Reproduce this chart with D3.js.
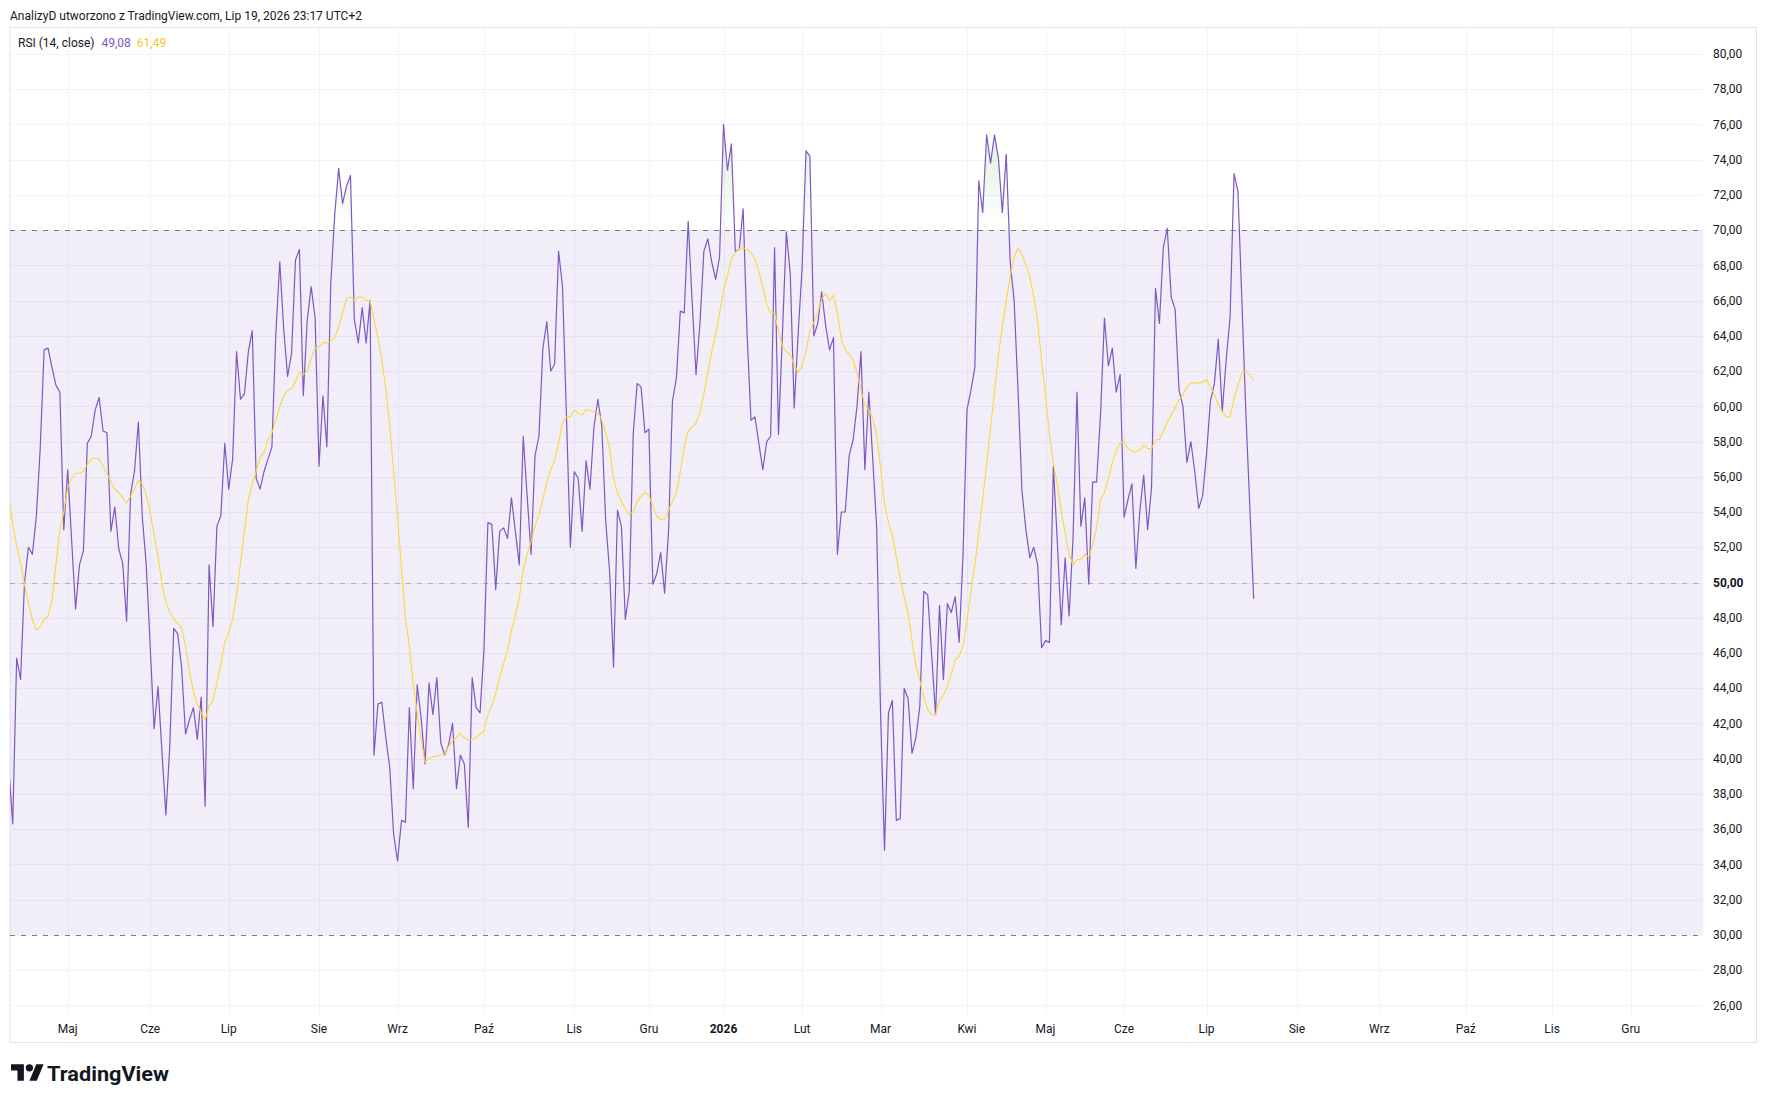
<!DOCTYPE html>
<html><head><meta charset="utf-8">
<script src="https://cdn.jsdelivr.net/npm/d3@7"></script>
<style>
body{margin:0;background:#ffffff;}
svg{display:block;}
text{font-family:Roboto,"Noto Sans",sans-serif;}
</style>
</head><body>
<svg id="chart" width="1766" height="1103"></svg>
<script>
// RSI (14, close) – one value per trading day
const rsiValues = [
39.5,36.3,45.7,44.5,50.0,52.0,51.6,53.7,57.6,63.2,
63.3,62.2,61.2,60.8,53.0,56.4,52.4,48.5,51.0,51.8,
57.9,58.3,59.8,60.5,58.6,58.5,52.9,54.3,51.9,51.1,
47.8,55.0,56.3,59.1,53.7,51.0,46.4,41.7,44.1,40.4,
36.8,40.7,47.4,47.1,45.2,41.4,42.2,42.9,41.1,43.5,
37.3,51.0,47.5,53.2,53.8,57.9,55.3,57.0,63.1,60.4,
60.7,63.1,64.3,55.9,55.3,56.3,57.0,57.7,64.1,68.2,
64.4,61.7,63.0,68.3,68.9,60.6,64.9,66.8,65.0,56.6,
60.6,57.7,67.0,70.9,73.5,71.5,72.5,73.1,64.9,63.6,
65.6,63.6,66.0,40.2,43.1,43.2,41.2,39.5,35.7,34.2,
36.5,36.4,42.9,38.3,44.2,42.3,39.7,44.3,42.5,44.6,
40.9,40.2,40.8,42.0,38.3,40.2,39.7,36.1,44.6,42.9,
42.6,46.2,53.4,53.3,49.6,52.9,53.1,52.5,54.8,52.9,
51.0,58.3,54.9,51.6,57.2,58.3,63.3,64.8,62.0,62.4,
68.8,66.8,59.5,52.0,56.3,55.9,52.9,56.9,55.3,58.8,
60.4,58.9,53.5,50.6,45.2,54.1,53.2,47.9,49.5,58.4,
61.3,61.1,58.5,58.7,49.9,50.5,51.7,49.4,52.9,60.3,
61.6,65.4,65.3,70.5,66.0,61.8,64.7,68.8,69.5,68.2,
67.2,68.5,76.0,73.4,74.9,68.8,68.9,71.2,64.1,59.2,
59.4,57.9,56.4,58.0,58.3,69.0,58.4,64.1,69.9,67.5,
59.9,64.1,67.8,74.5,74.2,64.0,64.7,66.5,64.6,63.2,
63.9,51.6,54.0,54.0,57.2,58.1,60.0,63.1,56.4,60.8,
57.0,53.1,42.5,34.8,42.6,43.3,36.5,36.6,44.0,43.4,
40.3,41.2,43.0,49.5,49.3,45.9,42.5,48.7,44.5,48.8,
48.3,49.2,46.6,51.6,59.8,60.9,62.2,72.8,71.0,75.4,
73.8,75.4,74.1,71.0,74.3,68.2,66.0,60.9,55.2,53.0,
51.4,52.0,51.0,46.3,46.7,46.6,56.6,52.3,47.6,51.4,
48.1,52.5,60.8,53.2,54.8,49.9,55.7,55.7,59.5,65.0,
62.3,63.3,60.8,61.8,53.7,54.7,55.6,50.8,54.0,56.1,
53.0,55.4,66.7,64.7,69.0,70.1,66.2,65.5,60.9,60.0,
56.8,58.0,56.3,54.2,54.9,57.3,60.3,61.3,63.8,59.7,
62.6,65.1,73.2,72.2,66.0,59.7,54.4,49.08
];
// RSI-based moving average
const maValues = [
54.9,53.3,52.1,51.1,49.9,48.8,47.9,47.3,47.5,47.9,
48.1,49.0,51.0,53.0,54.0,55.4,55.9,56.2,56.2,56.3,
56.7,57.0,57.1,57.0,56.6,56.2,55.7,55.3,55.1,54.8,
54.5,54.9,55.3,55.8,55.6,55.0,54.0,52.7,51.5,49.9,
48.9,48.3,47.9,47.7,47.4,46.4,45.0,43.8,43.1,42.6,
42.2,43.0,43.3,44.3,45.4,46.6,47.2,47.9,49.3,51.1,
52.9,54.7,55.6,56.3,57.1,57.4,58.1,58.5,59.2,60.0,
60.6,60.9,61.0,61.4,61.9,61.8,62.0,62.7,63.3,63.4,
63.6,63.6,63.7,63.9,64.5,65.3,66.1,66.2,66.0,66.2,
66.2,66.0,66.0,64.9,63.9,62.6,61.0,58.9,56.3,53.7,
50.8,48.0,46.4,44.2,42.6,41.1,39.8,40.0,40.1,40.15,
40.2,40.25,40.7,41.05,41.2,41.45,41.2,41.05,41.1,41.2,
41.4,41.6,42.5,43.0,43.7,44.6,45.4,46.15,47.3,48.1,
49.15,50.7,51.6,52.3,53.2,53.85,54.75,55.65,56.4,56.95,
57.9,59.05,59.4,59.4,59.8,59.6,59.5,59.8,59.75,59.7,
59.65,59.2,58.5,57.6,55.9,55.1,54.6,54.2,53.85,54.0,
54.6,54.9,55.1,54.95,54.35,53.75,53.6,53.55,54.1,54.6,
55.1,56.3,57.7,58.6,58.8,59.05,59.7,60.7,61.9,63.1,
64.1,65.3,66.6,67.4,68.4,68.7,68.95,69.0,68.9,68.7,
68.35,67.65,66.75,65.8,65.3,65.3,64.25,63.4,63.1,62.95,
62.35,61.9,62.3,63.1,64.3,64.75,65.3,66.1,66.4,66.0,
66.3,65.3,63.8,63.2,62.95,62.6,61.9,60.9,60.1,59.8,
59.3,58.4,56.5,54.5,53.4,52.7,51.45,50.2,49.2,48.25,
46.7,45.3,44.4,43.5,42.8,42.5,42.5,43.3,43.6,44.1,
44.8,45.6,45.8,46.4,47.8,49.5,51.0,52.85,54.7,56.75,
58.8,60.8,62.9,64.55,66.0,67.35,68.5,68.96,68.6,68.04,
67.35,66.2,64.8,62.6,60.65,58.4,56.75,55.6,54.0,52.85,
51.6,51.0,51.3,51.3,51.6,51.45,52.1,53.1,54.7,55.1,
55.9,56.8,57.5,57.9,58.0,57.6,57.45,57.4,57.5,57.8,
57.6,57.6,58.1,58.1,58.6,59.1,59.5,59.9,60.4,60.65,
61.1,61.3,61.35,61.3,61.4,61.5,61.1,60.65,60.1,59.7,
59.4,59.4,60.4,61.2,61.9,62.0,61.8,61.49
];
// month ticks: label and bar index where the month begins
const monthLabels = ["Maj","Cze","Lip","Sie","Wrz","Paź","Lis","Gru","2026","Lut","Mar","Kwi","Maj","Cze","Lip","Sie","Wrz","Paź","Lis","Gru"];
const monthBars   = [15,36,56,79,99,121,144,163,182,202,222,244,264,284,305,328,349,371,393,413];
const yTickValues = d3.range(26, 82, 2);
const bandLevels = [70, 50, 30];

const svg = d3.select("#chart");
const frame = {l:10, t:27.5, r:1756.5, b:1042.5};
const plot = {l:10, t:27.5, r:1703.5, b:1015};

const x = d3.scaleLinear().domain([0, rsiValues.length-1]).range([8.8, 8.8 + (rsiValues.length-1)*3.927]);
const y = d3.scaleLinear().domain([30, 70]).range([934.9, 230.1]);

const locale = d3.formatLocale({decimal:",", thousands:" ", grouping:[3], currency:["","zł"]});
const fmt = locale.format(".2f");

const defs = svg.append("defs");
defs.append("clipPath").attr("id","plotClip").append("rect")
  .attr("x",plot.l).attr("y",plot.t).attr("width",plot.r-plot.l).attr("height",plot.b-plot.t);
defs.append("clipPath").attr("id","obClip").append("rect")
  .attr("x",plot.l).attr("y",plot.t).attr("width",plot.r-plot.l).attr("height",y(70)-plot.t);
const grad = defs.append("linearGradient").attr("id","obGrad")
  .attr("gradientUnits","userSpaceOnUse").attr("x1",0).attr("x2",0).attr("y1",y(100)).attr("y2",y(70));
grad.append("stop").attr("offset","0").attr("stop-color","#4CAF50").attr("stop-opacity",1);
grad.append("stop").attr("offset","1").attr("stop-color","#4CAF50").attr("stop-opacity",0);

// header
svg.append("text").attr("x",10).attr("y",19.5).attr("font-size",12).attr("fill","#131722")
  .text("AnalizyD utworzono z TradingView.com, Lip 19, 2026 23:17 UTC+2");

// frame
svg.append("rect").attr("x",frame.l).attr("y",frame.t).attr("width",frame.r-frame.l).attr("height",frame.b-frame.t)
  .attr("fill","#ffffff").attr("stroke","#E0E3EB").attr("stroke-width",1);

const g = svg.append("g").attr("clip-path","url(#plotClip)");

// grid
g.selectAll("line.hg").data(yTickValues).join("line")
  .attr("x1",plot.l).attr("x2",plot.r).attr("y1",d=>Math.round(y(d))+0.5).attr("y2",d=>Math.round(y(d))+0.5)
  .attr("stroke","#F0F3FA").attr("stroke-width",1);
g.selectAll("line.vg").data(monthBars).join("line")
  .attr("x1",d=>Math.round(x(d))+0.5).attr("x2",d=>Math.round(x(d))+0.5).attr("y1",plot.t).attr("y2",plot.b)
  .attr("stroke","#F0F3FA").attr("stroke-width",1);

// band background 30-70
g.append("rect").attr("x",plot.l).attr("width",plot.r-plot.l)
  .attr("y",y(70)).attr("height",y(30)-y(70)).attr("fill","rgba(126,87,194,0.1)");

// overbought gradient fill
const obArea = d3.area().x((d,i)=>x(i)).y0(y(70)).y1(d=>y(d));
g.append("path").datum(rsiValues).attr("clip-path","url(#obClip)")
  .attr("d",obArea).attr("fill","url(#obGrad)");

// band lines
g.selectAll("line.band").data(bandLevels).join("line")
  .attr("x1",plot.l).attr("x2",plot.r)
  .attr("y1",d=>Math.round(y(d))+0.5).attr("y2",d=>Math.round(y(d))+0.5)
  .attr("stroke",d=>d===50?"rgba(120,123,134,0.5)":"#787B86")
  .attr("stroke-width",1).attr("stroke-dasharray","5,6");

const line = d3.line().x((d,i)=>x(i)).y(d=>y(d));
g.append("path").datum(rsiValues).attr("d",line).attr("fill","none")
  .attr("stroke","#7E57C2").attr("stroke-width",1.2).attr("stroke-linejoin","round");
g.append("path").datum(maValues).attr("d",line).attr("fill","none")
  .attr("stroke","#FDD835").attr("stroke-width",1.1).attr("stroke-linejoin","round");

// y axis labels
svg.append("g").selectAll("text").data(yTickValues).join("text")
  .attr("x",1713).attr("y",d=>y(d)).attr("dy","0.35em").attr("font-size",12)
  .attr("font-weight",d=>d===50?700:400)
  .attr("fill","#131722").text(d=>fmt(d));

// x axis labels
svg.append("g").selectAll("text").data(monthBars).join("text")
  .attr("x",d=>x(d)).attr("y",1029).attr("dy","0.35em").attr("text-anchor","middle").attr("font-size",12)
  .attr("font-weight",(d,i)=>monthLabels[i]==="2026"?700:400)
  .attr("fill","#131722").text((d,i)=>monthLabels[i]);

// legend
const leg = svg.append("text").attr("x",18).attr("y",46.5).attr("font-size",12);
leg.append("tspan").attr("fill","#131722").text("RSI (14, close)");
leg.append("tspan").attr("dx",7).attr("fill","#7E57C2").text(fmt(rsiValues[rsiValues.length-1]));
leg.append("tspan").attr("dx",6).attr("fill","#F9C623").text(fmt(maValues[maValues.length-1]));

// TradingView logo
const logo = svg.append("g").attr("transform","translate(11,1060.5) scale(0.92)").attr("fill","#131722");
logo.append("path").attr("d","M14 22H7V11H0V4h14v18zM28 22h-8l7.5-18h8L28 22z");
logo.append("circle").attr("cx",20).attr("cy",8).attr("r",4);
svg.append("text").attr("x",47).attr("y",1080.5).attr("font-size",20).attr("font-weight",700)
  .attr("fill","#131722").attr("textLength",122).attr("lengthAdjust","spacingAndGlyphs").text("TradingView");
</script>
</body></html>
